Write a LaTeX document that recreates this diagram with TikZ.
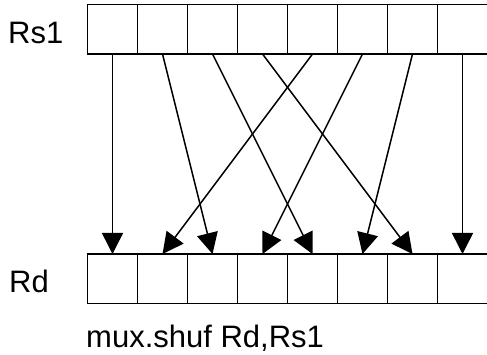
\documentclass[tikz,border=0pt]{standalone}
\usepackage{fontspec}
\setmainfont{Liberation Sans}
\usetikzlibrary{arrows.meta,positioning}

\begin{document}
\begin{tikzpicture}[x=1pt,y=-1pt,
	cell/.style={draw, line width=1.6pt, minimum width=50pt, minimum height=49.5pt, inner sep=0pt, outer sep=0pt},
	lbl/.style={inner sep=0pt, anchor=base west, font=\fontsize{31}{37}\selectfont},
	route/.style={-{Triangle[length=21pt,width=21pt]}, line width=1.5pt}]
		\useasboundingbox (0,0) rectangle (487,355);
		% source register
		\node (s1) [cell, anchor=north west] at (87.5,4.5) {};
		\foreach \i [remember=\i as \prev (initially 1)] in {2,...,8}
			\node (s\i) [cell, right=0pt of s\prev] {};
		% destination register
		\node (d1) [cell, anchor=north west] at (87.5,254) {};
		\foreach \i [remember=\i as \prev (initially 1)] in {2,...,8}
			\node (d\i) [cell, right=0pt of d\prev] {};
		
		\node (rs) [lbl] at (8,44) {Rs1};
		\node (rd) [lbl] at (9,292) {Rd};
		\node (cap) [lbl] at (86,347) {mux.shuf Rd,Rs1};
		
		\foreach \a/\b in {1/1,2/3,3/5,4/7,5/2,6/4,7/6,8/8}
			\draw [route] (s\a.south) -- (d\b.north);
	\end{tikzpicture}
\end{document}
